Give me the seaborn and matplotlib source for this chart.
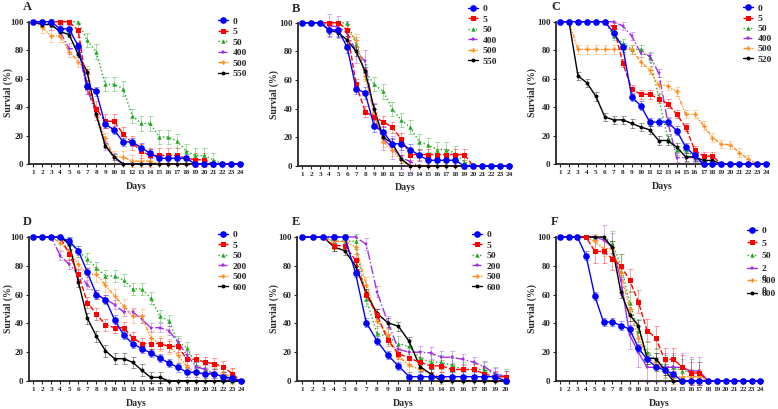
import numpy as np
import seaborn as sns
import matplotlib.pyplot as plt

sns.set_style('ticks')
plt.rcParams['font.family'] = ['Liberation Serif', 'DejaVu Serif']
plt.rcParams['font.weight'] = 'bold'

W, H = 778, 409

# days on the x axis
days24 = list(range(1, 25))
days20 = list(range(1, 21))

# panel A
A_labels = ['0', '5', '50', '400', '500', '550']
A_0 = [100, 100, 100, 95, 95, 83, 55, 51, 28, 24, 15.5, 15.5, 11.5, 7.5, 4, 4, 4, 4, 0, 0, 0, 0, 0, 0]
A_5 = [100, 100, 100, 100, 100, 94, 54, 39, 30, 30, 21, 15, 9, 6, 6, 6, 6, 4, 3, 3, 0, 0, 0, 0]
A_50 = [100, 100, 100, 100, 100, 100, 87, 79, 56, 56, 53, 34, 28.5, 28.5, 19, 19, 16, 9, 6, 6, 3, 0, 0, 0]
A_400 = [100, 100, 98, 93, 81, 81, 53, 35, 14, 4, 0, 0, 0, 0, 0, 0, 0, 0, 0, 0, 0, 0, 0, 0]
A_500 = [100, 96, 90, 90, 79, 72, 65, 35, 18, 5, 5, 2, 2, 2, 0, 0, 0, 0, 0, 0, 0, 0, 0, 0]
A_550 = [100, 98, 98, 93, 91, 77, 65, 35, 13, 5, 0, 0, 0, 0, 0, 0, 0, 0, 0, 0, 0, 0, 0, 0]
A_err = [3, 5, 5, 4, 4, 2]

# panel B
B_labels = ['0', '5', '50', '400', '500', '550']
B_0 = [100, 100, 100, 95, 95, 83, 54, 51, 28, 24, 15.5, 15.5, 11.5, 7.5, 4, 4, 4, 4, 0, 0, 0, 0, 0, 0]
B_5 = [100, 100, 100, 100, 100, 95, 57, 38, 34, 31, 27, 19, 8, 8, 8, 8, 8, 8, 8, 0, 0, 0, 0, 0]
B_50 = [100, 100, 100, 100, 100, 100, 85, 66, 57, 52, 40, 32, 27, 17, 14.5, 11.5, 11.5, 9, 3, 0, 0, 0, 0, 0]
B_400 = [100, 100, 100, 98, 97, 93, 80, 73, 36, 19, 13, 6, 3, 0, 0, 0, 0, 0, 0, 0, 0, 0, 0, 0]
B_500 = [100, 100, 100, 100, 100, 95, 88, 63, 36, 17, 11, 4, 0, 0, 0, 0, 0, 0, 0, 0, 0, 0, 0, 0]
B_550 = [100, 100, 100, 95, 93, 88, 80, 66, 40, 20, 16, 5, 0, 0, 0, 0, 0, 0, 0, 0, 0, 0, 0, 0]
B_err = [4, 4, 5, 8, 4, 3]

# panel C
C_labels = ['0', '5', '50', '400', '500', '520']
C_0 = [100, 100, 100, 100, 100, 100, 92, 82, 47, 41, 29.5, 29.5, 29.5, 23.5, 12, 6, 0, 0, 0, 0, 0, 0, 0, 0]
C_5 = [100, 100, 100, 100, 100, 100, 96, 71, 52.5, 49, 49, 46, 42.5, 35, 26, 10, 5.5, 5.5, 0, 0, 0, 0, 0, 0]
C_50 = [100, 100, 100, 100, 100, 100, 90, 85, 80.5, 80.5, 75, 47, 18, 9.5, 9.5, 5, 2, 2, 0, 0, 0, 0, 0, 0]
C_400 = [100, 100, 100, 100, 100, 100, 100, 97, 90, 78, 76, 64, 30, 4.5, 4.5, 4.5, 0, 0, 0, 0, 0, 0, 0, 0]
C_500 = [100, 100, 80.5, 80.5, 80.5, 80.5, 80.5, 80.5, 80.5, 72, 66, 55.5, 55, 51, 35, 35, 27, 18.5, 14, 13.5, 8, 3.3, 0, 0]
C_520 = [100, 100, 62, 57, 47.5, 33, 31, 31, 28.5, 26, 24, 16.5, 16.5, 12, 5, 5, 2.5, 2.5, 0, 0, 0, 0, 0, 0]
C_err = [3, 3, 3, 3, 3, 3]

# panel D
D_labels = ['0', '5', '50', '200', '500', '600']
D_0 = [100, 100, 100, 100, 97, 90.5, 75.5, 60, 56.5, 42.5, 32, 26, 22.5, 19.5, 16, 12.5, 9.5, 6, 6, 5, 5, 3, 2, 0]
D_5 = [100, 100, 100, 100, 88, 74, 54.5, 46.5, 39, 37, 37, 30, 26, 26, 26, 24, 24, 15, 15, 13, 12, 10, 5, 0]
D_50 = [100, 100, 100, 100, 96, 90, 85, 78.5, 73, 73, 70, 64, 64, 57.5, 45, 42, 27, 23, 11, 8, 5, 3, 0, 0]
D_200 = [100, 100, 100, 87, 81, 74, 67, 60, 57, 53, 48, 48, 43, 37, 37, 35, 27, 18, 10, 8, 5, 3, 0, 0]
D_500 = [100, 100, 100, 96, 90, 81, 74, 74, 66.5, 59, 52, 45, 45, 30, 26, 24, 18, 10, 5, 5, 5, 5, 3, 0]
D_600 = [100, 100, 100, 100, 95, 69, 43.5, 31, 21, 15.5, 15.5, 13, 7.5, 2.5, 2.5, 0, 0, 0, 0, 0, 0, 0, 0, 0]
D_err = [3, 4, 4, 3, 5, 4]

# panel E
E_labels = ['0', '5', '50', '200', '500', '600']
E_0 = [100, 100, 100, 100, 100, 75, 40.5, 28, 18, 10.5, 3, 3, 3, 3, 3, 3, 3, 3, 3, 0]
E_5 = [100, 100, 100, 94, 94, 84, 60, 46, 28.5, 19, 16, 13, 10.5, 10.5, 8, 8, 8, 5, 3, 3]
E_50 = [100, 100, 100, 97, 97, 97, 57, 33, 31, 26, 24, 16, 13, 13, 11, 8, 8, 8, 5, 3]
E_200 = [100, 100, 100, 100, 100, 100, 95, 62, 41, 22, 20, 20, 19.5, 16.5, 16.5, 15, 13, 10, 5, 3]
E_500 = [100, 100, 100, 97, 97, 93, 67, 42, 32, 17, 11, 8, 5, 3, 0, 0, 0, 0, 0, 0]
E_600 = [100, 100, 100, 93, 90.5, 80, 61, 47, 40.5, 38, 27.5, 10, 5, 0, 0, 0, 0, 0, 0, 0]
E_err = [3, 4, 5, 4, 5, 3]

# panel F
F_labels = ['0', '5', '50', '2', '500', '600']
F_0 = [100, 100, 100, 87, 59, 41, 41, 38.5, 36, 23, 15, 10, 7.5, 5, 0, 0, 0, 0, 0, 0, 0, 0, 0, 0]
F_5 = [100, 100, 100, 100, 90, 90, 85, 80, 70, 55, 35, 30, 15, 15, 10, 5.5, 5.5, 0, 0, 0, 0, 0, 0, 0]
F_50 = [100, 100, 100, 100, 100, 100, 96, 80, 54.5, 35, 20, 15, 10, 10, 7, 7, 5, 0, 0, 0, 0, 0, 0, 0]
F_200 = [100, 100, 100, 100, 100, 98, 93, 70, 32, 20, 9.5, 9.5, 9.5, 9.5, 9.5, 7, 7, 0, 0, 0, 0, 0, 0, 0]
F_500 = [100, 100, 100, 100, 97, 92, 92, 75, 50, 30, 17, 12, 8, 3, 3, 3, 3, 0, 0, 0, 0, 0, 0, 0]
F_600 = [100, 100, 100, 100, 100, 100, 93, 61.5, 46, 38.5, 16, 15.5, 8, 0, 0, 0, 0, 0, 0, 0, 0, 0, 0, 0]
F_err = [3, 8, 8, 10, 5, 4]

colors = ['#0000FF', '#FF0000', '#22AA22', '#A030E8', '#FF8C1A', '#000000']
markers = ['o', 's', '^', '*', 'P', 'o']
msizes = [4.8, 3.6, 3.2, 3.6, 3.2, 2.8]
lstyles = ['-', '--', ':', '-.', (0, (3, 1, 1, 1, 1, 1)), '-']
zorders = [7, 6, 4, 4, 4, 5]

# panel layout in pixels: (left, top, right, bottom), xlim, letter pos, legend pos, ylabel x
panels = [
    ('A', days24, A_labels, [A_0, A_5, A_50, A_400, A_500, A_550], A_err,
     (29, 21.7, 243, 164), 24.3, (23, 1), (218, 17), 0.2, 13),
    ('B', days24, B_labels, [B_0, B_5, B_50, B_400, B_500, B_550], B_err,
     (298, 22.7, 512, 166), 24.3, (292, 3), (468, 4.5), 0.2, 279),
    ('C', days24, C_labels, [C_0, C_5, C_50, C_400, C_500, C_520], C_err,
     (556, 21.7, 769, 164), 24.3, (551, 1), (743, 4), 0.17, 537),
    ('D', days24, D_labels, [D_0, D_5, D_50, D_200, D_500, D_600], D_err,
     (29, 237, 244, 381), 24.3, (23, 216), (218, 230.5), 0.2, 13),
    ('E', days20, E_labels, [E_0, E_5, E_50, E_200, E_500, E_600], E_err,
     (297, 237, 509, 381), 20.3, (292, 216), (472, 230.5), 0.2, 279),
    ('F', days24, F_labels, [F_0, F_5, F_50, F_200, F_500, F_600], F_err,
     (556, 237, 763, 381), 24.3, (551, 216), (747, 226.5), 0.42, 537),
]

fig = plt.figure(figsize=(W / 100, H / 100), dpi=100)
axes = {}

for letter, days, labels, series, errs, box, xr, lpos, legpos, lspace, ylx in panels:
    l, t, r, b = box
    ax = fig.add_axes([l / W, 1 - b / H, (r - l) / W, (b - t) / H])
    axes[letter] = ax
    for i, vals in enumerate(series):
        v = np.array(vals, dtype=float)
        ls = lstyles[i]
        if letter == 'F' and i == 3:
            ls = '-'
        e = np.where((v > 0) & (v < 100), errs[i], np.nan)
        ax.errorbar(days, v, yerr=e, fmt='none', ecolor=colors[i], alpha=0.4,
                    elinewidth=0.7, capsize=1.8, capthick=0.7, zorder=2, clip_on=False)
        sns.lineplot(x=days, y=v, ax=ax, color=colors[i], marker=markers[i],
                     markersize=msizes[i], markeredgewidth=0, linestyle=ls,
                     linewidth=1.0, label=labels[i], zorder=zorders[i], clip_on=False)
    ax.set_xlim(0.55, xr)
    ax.set_ylim(0, 100)
    ax.set_xticks(days)
    ax.set_xticklabels([str(d) for d in days], fontsize=5.2, fontweight='bold')
    ax.set_yticks([0, 20, 40, 60, 80, 100])
    ax.set_yticklabels(['0', '20', '40', '60', '80', '100'], fontsize=6.5, fontweight='bold')
    ax.tick_params(length=2.5, width=0.8, pad=1.5)
    for s in ['top', 'right']:
        ax.spines[s].set_visible(False)
    for s in ['left', 'bottom']:
        ax.spines[s].set_linewidth(1.3)
    ax.set_xlabel('Days', fontsize=7, fontweight='bold', labelpad=5)
    ax.set_ylabel('Survial (%)', fontsize=7, fontweight='bold')
    ax.yaxis.set_label_coords((ylx - l) / (r - l), 0.5)
    fig.text(lpos[0] / W, 1 - lpos[1] / H, letter, fontsize=9, fontweight='bold',
             ha='left', va='top')
    ax.legend(loc='upper left', bbox_to_anchor=(legpos[0] / W, 1 - legpos[1] / H),
              bbox_transform=fig.transFigure, frameon=False,
              borderpad=0, borderaxespad=0, handlelength=1.05, handletextpad=0.5,
              labelspacing=lspace, prop={'weight': 'bold', 'size': 6.8})

# panel F legend: the "200" label wraps over the rows below it
fig.canvas.draw()
leg = axes['F'].get_legend()
t2 = leg.get_texts()[3]
bb = t2.get_window_extent()
for off in [10, 22]:
    fig.text(bb.x0 / W, (bb.y0 - off) / H, '0', fontsize=6.8, fontweight='bold',
             ha='left', va='bottom')

fig.savefig('out.png', dpi=100)
